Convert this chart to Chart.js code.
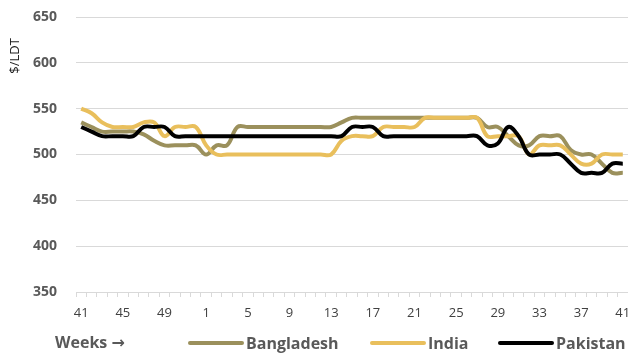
<!DOCTYPE html>
<html>
<head>
<meta charset="utf-8">
<script src="https://cdn.jsdelivr.net/npm/chart.js@4.4.1/dist/chart.umd.min.js"></script>
<style>
  html, body { margin: 0; padding: 0; background: #ffffff; }
  #wrap { width: 628px; height: 356px; }
</style>
</head>
<body>
<div id="wrap"><canvas id="c" width="628" height="356"></canvas></div>
<script>
// Week numbers: week 41 of one year through week 41 of the next
const weeks = [41, 42, 43, 44, 45, 46, 47, 48, 49, 50, 51, 52,
  1, 2, 3, 4, 5, 6, 7, 8, 9, 10, 11, 12, 13, 14, 15, 16, 17, 18, 19, 20,
  21, 22, 23, 24, 25, 26, 27, 28, 29, 30, 31, 32, 33, 34, 35, 36, 37, 38, 39, 40, 41];

// Ship-recycling prices, $ per light displacement ton
const bangladesh = [535, 530, 525, 525, 525, 525, 522, 515, 510, 510, 510, 510,
  500, 510, 510, 530, 530, 530, 530, 530, 530, 530, 530, 530, 530, 535, 540, 540,
  540, 540, 540, 540, 540, 540, 540, 540, 540, 540, 540, 530, 530, 520, 510, 510,
  520, 520, 520, 505, 500, 500, 490, 480, 480];

const india = [550, 545, 535, 530, 530, 530, 535, 535, 520, 530, 530, 530,
  510, 500, 500, 500, 500, 500, 500, 500, 500, 500, 500, 500, 500, 515, 520, 520,
  520, 530, 530, 530, 530, 540, 540, 540, 540, 540, 540, 520, 520, 520, 520, 500,
  510, 510, 510, 500, 490, 490, 500, 500, 500];

const pakistan = [530, 525, 520, 520, 520, 520, 530, 530, 530, 520, 520, 520,
  520, 520, 520, 520, 520, 520, 520, 520, 520, 520, 520, 520, 520, 520, 530, 530,
  530, 520, 520, 520, 520, 520, 520, 520, 520, 520, 520, 510, 512, 530, 520, 500,
  500, 500, 500, 490, 480, 480, 480, 490, 490];

const seriesNames = ['Bangladesh', 'India', 'Pakistan'];
const seriesColors = ['#9b905c', '#e9bf5c', '#000000'];
const yMin = 350, yMax = 650, yStep = 50;
const yTitle = '$/LDT';
const xTitle = 'Weeks \u2192';

const FONT = "'Open Sans', 'DejaVu Sans', sans-serif";

// Axis title on the left, placed near the top of the value axis
const yTitlePlugin = {
  id: 'yTitle',
  afterDraw(chart) {
    const ctx = chart.ctx;
    ctx.save();
    ctx.translate(15, 56);
    ctx.rotate(-Math.PI / 2);
    ctx.font = '13px ' + FONT;
    ctx.fillStyle = '#1a1a1a';
    ctx.textAlign = 'center';
    ctx.textBaseline = 'middle';
    ctx.fillText(yTitle, 0, 0);
    ctx.restore();
  }
};

// Bottom row: axis caption followed by a line-sample legend for each series
const bottomLegend = {
  id: 'bottomLegend',
  afterDraw(chart) {
    const ctx = chart.ctx;
    const y = 343;
    ctx.save();
    ctx.font = 'bold 16px ' + FONT;
    ctx.fillStyle = '#595959';
    ctx.textBaseline = 'middle';
    ctx.textAlign = 'left';
    ctx.fillText(xTitle, 55, y);
    const starts = [190, 372, 500];
    chart.data.datasets.forEach((ds, i) => {
      const x0 = starts[i];
      ctx.strokeStyle = ds.borderColor;
      ctx.lineWidth = 4;
      ctx.lineCap = 'round';
      ctx.beginPath();
      ctx.moveTo(x0, y);
      ctx.lineTo(x0 + 52, y);
      ctx.stroke();
      ctx.fillStyle = '#595959';
      ctx.fillText(ds.label, x0 + 56, y + 1);
    });
    ctx.restore();
  }
};

const series = [bangladesh, india, pakistan];
const drawOrder = [2, 1, 0];

new Chart(document.getElementById('c'), {
  type: 'line',
  data: {
    labels: weeks,
    datasets: series.map((values, i) => ({
      label: seriesNames[i],
      data: values,
      borderColor: seriesColors[i],
      backgroundColor: seriesColors[i],
      borderWidth: 4,
      pointRadius: 0,
      tension: 0.4,
      fill: false,
      order: drawOrder[i]
    }))
  },
  options: {
    responsive: false,
    animation: false,
    devicePixelRatio: 1,
    layout: { padding: { top: 17, right: 0, bottom: 0, left: 0 } },
    plugins: {
      legend: { display: false },
      tooltip: { enabled: false },
      title: { display: false }
    },
    scales: {
      x: {
        type: 'category',
        offset: true,
        grid: {
          offset: true,
          drawOnChartArea: false,
          drawTicks: true,
          tickLength: 5,
          color: '#d9d9d9'
        },
        border: { display: true, color: '#d9d9d9', width: 1 },
        ticks: {
          autoSkip: false,
          maxRotation: 0,
          minRotation: 0,
          padding: 8,
          color: '#404040',
          font: { family: FONT, size: 13 },
          callback(value, index) {
            return index % 4 === 0 ? this.getLabelForValue(value) : '';
          }
        },
        afterFit(scale) {
          scale.height = 64;
          scale.paddingLeft = 0;
          scale.paddingRight = 0;
        }
      },
      y: {
        min: yMin,
        max: yMax,
        grid: { color: '#d9d9d9', lineWidth: 1, drawTicks: false },
        border: { display: false },
        ticks: {
          stepSize: yStep,
          padding: 19,
          color: '#595959',
          font: { family: FONT, size: 14, weight: 'bold' }
        },
        afterFit(scale) {
          scale.width = 76;
          scale.paddingTop = 0;
          scale.paddingBottom = 0;
        }
      }
    }
  },
  plugins: [yTitlePlugin, bottomLegend]
});
</script>
</body>
</html>
